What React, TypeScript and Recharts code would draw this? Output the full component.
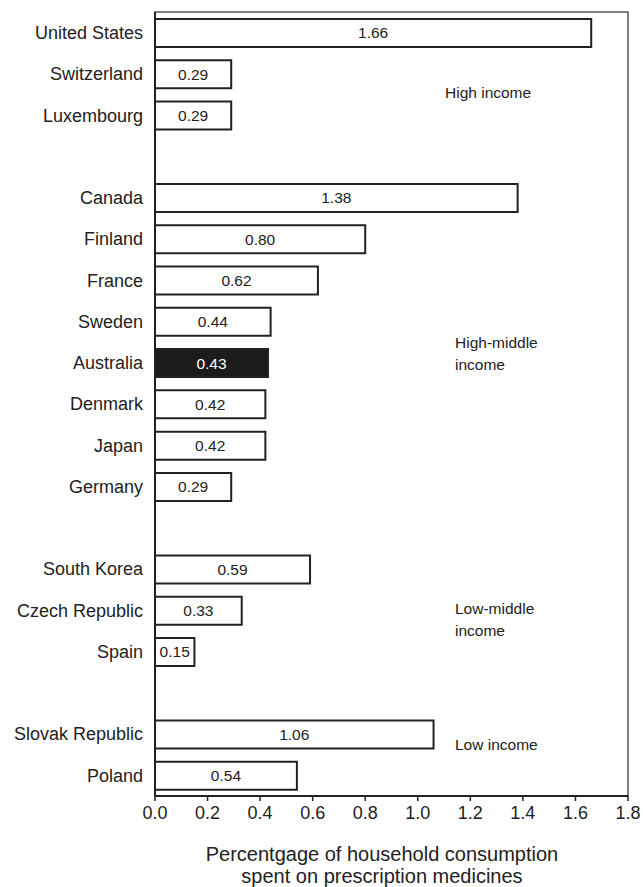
import { Bar, BarChart, Cell, LabelList, ReferenceArea, XAxis, YAxis } from "recharts"

// country rows top to bottom; "gap" rows keep the spacing between income groups
const countries = [
    "United States", "Switzerland", "Luxembourg", "gap1",
    "Canada", "Finland", "France", "Sweden", "Australia", "Denmark", "Japan", "Germany", "gap2",
    "South Korea", "Czech Republic", "Spain", "gap3",
    "Slovak Republic", "Poland",
]
const shares = [
    1.66, 0.29, 0.29, null,
    1.38, 0.80, 0.62, 0.44, 0.43, 0.42, 0.42, 0.29, null,
    0.59, 0.33, 0.15, null,
    1.06, 0.54,
]
const highlighted = "Australia"
const xTicks = [0, 0.2, 0.4, 0.6, 0.8, 1.0, 1.2, 1.4, 1.6, 1.8]

const groupLabels = [
    { lines: ["High income"], x: 445, y: 93 },
    { lines: ["High-middle", "income"], x: 455, y: 343 },
    { lines: ["Low-middle", "income"], x: 455, y: 609 },
    { lines: ["Low income"], x: 455, y: 745 },
]

const data = countries.map((name, i) => ({ name, value: shares[i] }))
// LabelList only walks the rows that actually have a bar
const barRows = data.filter((d) => d.value != null)

const FONT = '"Liberation Sans", Arial, Helvetica, sans-serif'

function AxisTitle() {
    const cx = 382
    return (
        <text x={cx} textAnchor="middle" fontSize={20} fill="#222" fontFamily={FONT}>
            <tspan x={cx} y={861}>Percentgage of household consumption</tspan>
            <tspan x={cx} y={883}>spent on prescription medicines</tspan>
        </text>
    )
}

export default function App() {
    return (
        <div style={{ position: "absolute", left: 0, top: 0, width: 643, height: 887, background: "#fff", fontFamily: FONT }}>
            <BarChart
                width={643}
                height={887}
                data={data}
                layout="vertical"
                margin={{ top: 12, right: 15, bottom: 0, left: 0 }}
                barSize={28}
            >
                <ReferenceArea x1={0} x2={1.8} fill="none" stroke="#555" strokeWidth={1.5} ifOverflow="visible" />
                <XAxis
                    type="number"
                    domain={[0, 1.8]}
                    ticks={xTicks}
                    tickFormatter={(v) => v.toFixed(1)}
                    height={91}
                    axisLine={{ stroke: "#222", strokeWidth: 2 }}
                    tickLine={{ stroke: "#222", strokeWidth: 1.5 }}
                    tickSize={5}
                    tickMargin={5}
                    tick={{ fontSize: 18, fill: "#222", fontFamily: FONT }}
                    label={<AxisTitle />}
                />
                <YAxis
                    type="category"
                    dataKey="name"
                    width={155}
                    interval={0}
                    axisLine={{ stroke: "#222", strokeWidth: 2 }}
                    tickLine={false}
                    tickSize={0}
                    tickMargin={12}
                    tickFormatter={(v) => (v.startsWith("gap") ? "" : v)}
                    tick={{ fontSize: 18, fill: "#222", fontFamily: FONT }}
                />
                <Bar dataKey="value" stroke="#222" strokeWidth={2} isAnimationActive={false}>
                    {data.map((d) => (
                        <Cell key={d.name} fill={d.name === highlighted ? "#1c1c1c" : "#fff"} />
                    ))}
                    <LabelList
                        dataKey="value"
                        content={(p: any) => {
                            if (p.value == null) return null
                            const row = barRows[p.index]
                            return (
                                <text
                                    x={p.x + p.width / 2}
                                    y={p.y + p.height / 2}
                                    dy="0.35em"
                                    textAnchor="middle"
                                    fontSize={15.5}
                                    fontFamily={FONT}
                                    fill={row && row.name === highlighted ? "#fff" : "#222"}
                                >
                                    {Number(p.value).toFixed(2)}
                                </text>
                            )
                        }}
                    />
                </Bar>
            </BarChart>
            <svg width={643} height={887} style={{ position: "absolute", left: 0, top: 0, pointerEvents: "none" }}>
                {groupLabels.map((g) => (
                    <text key={g.lines[0]} x={g.x} y={g.y} fontSize={15.5} fill="#222" fontFamily={FONT}>
                        {g.lines.map((line, i) => (
                            <tspan key={line} x={g.x} dy={i === 0 ? "0.35em" : 22}>{line}</tspan>
                        ))}
                    </text>
                ))}
            </svg>
        </div>
    )
}
